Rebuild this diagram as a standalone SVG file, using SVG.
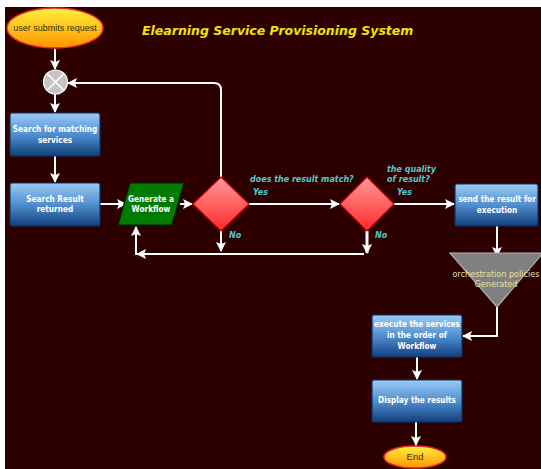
<svg xmlns="http://www.w3.org/2000/svg" width="541" height="469" viewBox="0 0 541 469">
  <defs>
    <linearGradient id="gBox" x1="0" y1="0" x2="0" y2="1">
      <stop offset="0" stop-color="#9ccbf4"/>
      <stop offset="0.5" stop-color="#4f8fd0"/>
      <stop offset="1" stop-color="#123f7c"/>
    </linearGradient>
    <linearGradient id="gTerm" x1="0" y1="0" x2="0" y2="1">
      <stop offset="0" stop-color="#fff23a"/>
      <stop offset="1" stop-color="#ff9300"/>
    </linearGradient>
    <linearGradient id="gDec" x1="0" y1="0" x2="0" y2="1">
      <stop offset="0" stop-color="#ff9a9a"/>
      <stop offset="1" stop-color="#ff2a2a"/>
    </linearGradient>
    <marker id="ah" viewBox="0 0 10 10" refX="9" refY="5" markerWidth="10" markerHeight="10" markerUnits="userSpaceOnUse" orient="auto">
      <path d="M0,0 L10,5 L0,10 L2,5 Z" fill="#ffffff"/>
    </marker>
  </defs>
  <style>
    .box { fill: url(#gBox); stroke: #0b3466; stroke-width: 1.2; }
    .term { fill: url(#gTerm); stroke: #e82828; stroke-width: 1.5; }
    .dec { fill: url(#gDec); stroke: #d00000; stroke-width: 1.2; }
    .btxt { font-family: "DejaVu Sans Condensed", "DejaVu Sans", sans-serif; font-weight: bold; font-size: 8.2px; fill: #ffffff; text-anchor: middle; }
    .ttxt { font-family: "Liberation Sans", Arial, sans-serif; font-size: 9px; fill: #333300; text-anchor: middle; }
    .lbl { font-family: "DejaVu Sans", sans-serif; font-weight: bold; font-style: italic; font-size: 8px; fill: #4fc8d0; }
    .otxt { font-family: "DejaVu Sans Condensed", "DejaVu Sans", sans-serif; font-size: 9px; fill: #e8e0a0; text-anchor: middle; }
    .conn path { fill: none; stroke: #ffffff; stroke-width: 2; }
    .conn .arr { marker-end: url(#ah); }
  </style>

  <rect x="5" y="7" width="536" height="462" fill="#2d0000"/>

  <text x="142" y="35" font-family="DejaVu Sans, sans-serif" font-weight="bold" font-style="italic" font-size="12.5px" fill="#f0e400">Elearning Service Provisioning System</text>

  <!-- connectors -->
  <g id="connectors" class="conn">
    <path class="arr" d="M55,49 V69"/>
    <path class="arr" d="M221,177 V90 Q221,83 214,83 H68"/>
    <path class="arr" d="M55,94 V112"/>
    <path class="arr" d="M55,156 V182"/>
    <path class="arr" d="M100,204 H126"/>
    <path class="arr" d="M180,204 H192"/>
    <path class="arr" d="M221,231 V251"/>
    <path class="arr" d="M249,204 H339"/>
    <path class="arr" d="M367,231 V253" style="stroke-width:3"/>
    <path class="arr" d="M364,254 H137"/>
    <path class="arr" d="M136,255 V227"/>
    <path class="arr" d="M394,204 H454"/>
    <path class="arr" d="M497,226 V256"/>
    <path class="arr" d="M497,307 V336 H463"/>
    <path class="arr" d="M417,357 V379"/>
    <path class="arr" d="M416,422 V445"/>
  </g>

  <g id="start">
    <ellipse class="term" cx="55" cy="28" rx="48" ry="20"/>
    <text class="ttxt" x="55" y="31">user submits request</text>
  </g>

  <g id="merge">
    <circle cx="55.5" cy="82" r="12" fill="#c4c4c4" stroke="#ffffff" stroke-width="1.2"/>
    <path d="M47,73.5 L64,90.5 M64,73.5 L47,90.5" stroke="#ffffff" stroke-width="1.6"/>
  </g>

  <g id="search">
    <rect class="box" x="10" y="113" width="90" height="43" rx="2"/>
    <text class="btxt" x="55" y="132">Search for matching</text>
    <text class="btxt" x="55" y="143">services</text>
  </g>

  <g id="result">
    <rect class="box" x="10" y="183" width="90" height="43" rx="2"/>
    <text class="btxt" x="55" y="202">Search Result</text>
    <text class="btxt" x="55" y="212">returned</text>
  </g>

  <g id="workflow">
    <polygon points="130,183 184,183 172,225 118,225" fill="#007a00" stroke="#002200" stroke-width="1.2"/>
    <text class="btxt" x="151" y="202">Generate a</text>
    <text class="btxt" x="151" y="212">Workflow</text>
  </g>

  <g id="match">
    <polygon class="dec" points="221,177 249,204 221,231 193,204"/>
    <text class="lbl" x="250" y="182">does the result match?</text>
    <text class="lbl" x="253" y="195">Yes</text>
    <text class="lbl" x="229" y="238">No</text>
  </g>

  <g id="quality">
    <polygon class="dec" points="367,177 394,204 367,231 340,204"/>
    <text class="lbl" x="387" y="172">the quality</text>
    <text class="lbl" x="387" y="182">of result?</text>
    <text class="lbl" x="397" y="195">Yes</text>
    <text class="lbl" x="375" y="238">No</text>
  </g>

  <g id="send">
    <rect class="box" x="455" y="184" width="83" height="42" rx="2"/>
    <text class="btxt" x="497" y="202">send the result for</text>
    <text class="btxt" x="497" y="213">execution</text>
  </g>

  <g id="policies">
    <polygon points="450,253 543,253 497,307" fill="#808080" stroke="#b0b0b0" stroke-width="1.2"/>
    <text class="otxt" x="496" y="277">orchestration policies</text>
    <text class="otxt" x="496" y="287">Generated</text>
  </g>

  <g id="execute">
    <rect class="box" x="372" y="315" width="90" height="42" rx="2"/>
    <text class="btxt" x="417" y="327">execute the services</text>
    <text class="btxt" x="417" y="338">in the order of</text>
    <text class="btxt" x="417" y="349">Workflow</text>
  </g>

  <g id="display">
    <rect class="box" x="372" y="380" width="90" height="42" rx="2"/>
    <text class="btxt" x="417" y="403">Display the results</text>
  </g>

  <g id="end">
    <ellipse class="term" cx="415" cy="457" rx="31" ry="11"/>
    <text class="ttxt" x="415" y="460" style="font-size:9.5px">End</text>
  </g>
</svg>
